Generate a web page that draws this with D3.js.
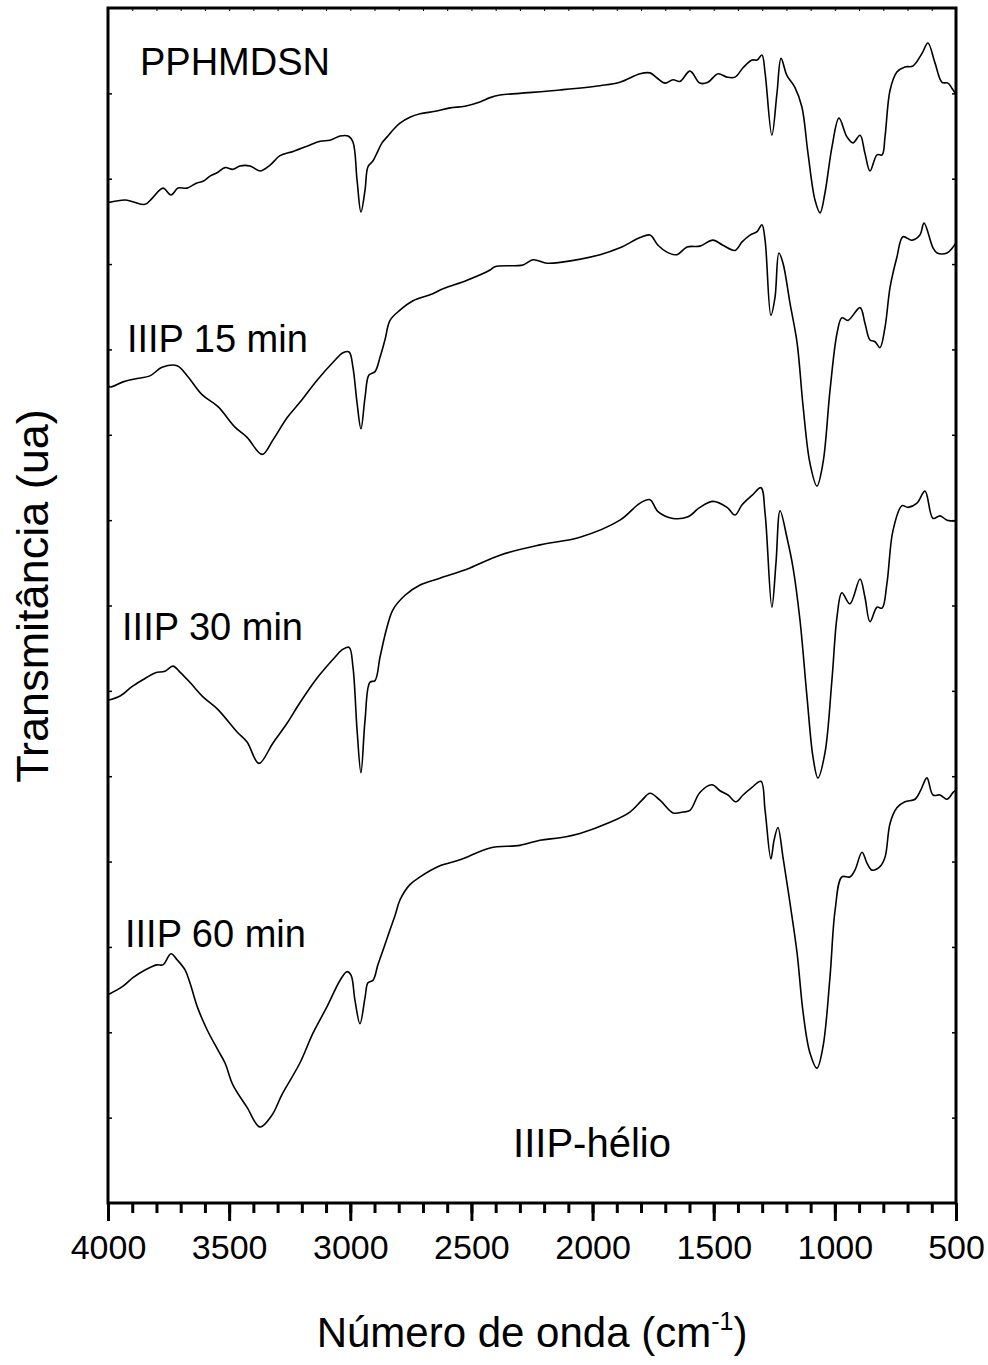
<!DOCTYPE html>
<html>
<head>
<meta charset="utf-8">
<script src="https://cdn.jsdelivr.net/npm/d3@7"></script>
<style>
  body { margin: 0; background: #fff; }
  text { font-family: Arial, "Liberation Sans", Helvetica, sans-serif; fill: #000; }
</style>
</head>
<body>
<div id="chart"></div>
<script>
// spectra: [wavenumber cm-1, transmittance (ua, stacked)]
const pphmdsn = [[4000,11.72],[3930,11.75],[3897,11.73],[3847,11.70],[3818,11.77],[3773,11.89],[3740,11.81],[3711,11.89],[3674,11.89],[3633,11.95],[3608,11.97],[3579,12.03],[3550,12.07],[3517,12.13],[3484,12.11],[3455,12.15],[3414,12.15],[3372,12.09],[3331,12.16],[3290,12.27],[3236,12.32],[3179,12.38],[3125,12.44],[3084,12.45],[3042,12.50],[3009,12.50],[2989,12.43],[2972,11.98],[2956,11.61],[2939,11.87],[2927,12.14],[2906,12.21],[2890,12.30],[2869,12.42],[2848,12.49],[2824,12.57],[2795,12.65],[2754,12.72],[2712,12.76],[2650,12.79],[2588,12.83],[2527,12.85],[2465,12.90],[2423,12.95],[2382,12.98],[2300,13.00],[2134,13.04],[1969,13.09],[1887,13.13],[1804,13.23],[1763,13.24],[1734,13.18],[1701,13.12],[1668,13.16],[1639,13.14],[1598,13.26],[1557,13.12],[1524,13.13],[1482,13.23],[1445,13.19],[1412,13.19],[1379,13.30],[1342,13.39],[1321,13.39],[1301,13.45],[1288,13.24],[1260,12.51],[1239,13.00],[1222,13.41],[1198,13.21],[1165,13.07],[1136,12.84],[1111,12.30],[1082,11.75],[1061,11.60],[1041,11.83],[1012,12.37],[983,12.71],[950,12.49],[925,12.42],[896,12.51],[876,12.30],[855,12.09],[826,12.28],[805,12.28],[793,12.49],[772,13.04],[744,13.25],[711,13.31],[678,13.32],[640,13.47],[616,13.59],[587,13.36],[558,13.13],[533,13.12],[517,13.06],[500,12.99]];

const iiip15 = [[4000,9.59],[3992,9.56],[3938,9.62],[3880,9.66],[3827,9.69],[3777,9.79],[3715,9.81],[3670,9.68],[3612,9.47],[3546,9.33],[3476,9.09],[3426,8.97],[3364,8.77],[3319,8.94],[3261,9.20],[3208,9.38],[3137,9.64],[3071,9.85],[3030,9.96],[3005,9.97],[2989,9.79],[2972,9.37],[2956,9.07],[2939,9.44],[2923,9.70],[2898,9.74],[2877,9.91],[2857,10.11],[2836,10.34],[2795,10.46],[2741,10.57],[2671,10.64],[2617,10.71],[2518,10.81],[2423,10.93],[2403,10.97],[2287,10.99],[2246,11.05],[2188,11.01],[2134,11.02],[1969,11.11],[1887,11.19],[1804,11.31],[1763,11.34],[1730,11.22],[1693,11.14],[1652,11.11],[1610,11.20],[1557,11.21],[1503,11.28],[1462,11.22],[1412,11.16],[1383,11.26],[1350,11.34],[1321,11.38],[1301,11.46],[1288,11.28],[1264,10.40],[1247,10.61],[1231,11.13],[1214,11.01],[1185,10.54],[1156,10.08],[1131,9.33],[1103,8.67],[1074,8.40],[1049,8.67],[1020,9.52],[991,10.19],[971,10.37],[946,10.34],[896,10.49],[876,10.31],[855,10.11],[834,10.09],[814,10.02],[793,10.26],[772,10.73],[744,11.08],[719,11.32],[682,11.28],[649,11.34],[632,11.48],[595,11.19],[578,11.13],[537,11.13],[512,11.20],[500,11.25]];

const iiip30 = [[4000,5.89],[3950,5.94],[3901,6.05],[3856,6.13],[3806,6.21],[3765,6.23],[3732,6.29],[3703,6.22],[3662,6.10],[3608,5.93],[3546,5.78],[3468,5.52],[3426,5.40],[3377,5.15],[3319,5.39],[3261,5.62],[3208,5.86],[3137,6.15],[3071,6.37],[3034,6.48],[3005,6.51],[2989,6.28],[2972,5.54],[2956,5.04],[2939,5.66],[2919,6.10],[2898,6.12],[2877,6.40],[2848,6.75],[2824,6.95],[2774,7.12],[2712,7.24],[2630,7.32],[2506,7.44],[2382,7.59],[2217,7.71],[2052,7.80],[1887,8.00],[1804,8.20],[1763,8.24],[1730,8.10],[1668,8.02],[1606,8.04],[1557,8.15],[1503,8.22],[1445,8.15],[1412,8.06],[1383,8.18],[1342,8.29],[1305,8.38],[1288,8.08],[1260,6.98],[1243,7.50],[1226,8.11],[1198,7.80],[1173,7.45],[1144,6.83],[1115,5.93],[1090,5.22],[1070,4.98],[1041,5.27],[1012,6.13],[991,6.87],[971,7.15],[938,7.02],[896,7.31],[876,7.10],[855,6.81],[826,6.98],[805,6.97],[785,7.26],[760,7.88],[723,8.17],[698,8.15],[661,8.20],[628,8.34],[595,8.02],[566,8.05],[537,8.00],[500,7.99]];

const iiip60 = [[4000,2.44],[3938,2.54],[3897,2.64],[3847,2.73],[3798,2.79],[3773,2.79],[3740,2.92],[3715,2.85],[3682,2.73],[3662,2.58],[3629,2.28],[3591,2.03],[3546,1.79],[3517,1.64],[3484,1.38],[3426,1.12],[3373,0.89],[3323,1.03],[3282,1.27],[3208,1.64],[3154,1.99],[3096,2.30],[3042,2.61],[3014,2.71],[2997,2.67],[2981,2.38],[2960,2.10],[2939,2.41],[2927,2.58],[2906,2.61],[2886,2.79],[2865,2.96],[2836,3.20],[2815,3.37],[2795,3.55],[2754,3.73],[2712,3.82],[2630,3.95],[2547,4.02],[2423,4.16],[2300,4.19],[2217,4.25],[2134,4.28],[2052,4.33],[1928,4.46],[1846,4.58],[1796,4.72],[1763,4.80],[1722,4.72],[1668,4.57],[1627,4.58],[1598,4.60],[1557,4.81],[1507,4.90],[1474,4.83],[1441,4.78],[1408,4.70],[1379,4.78],[1342,4.87],[1305,4.94],[1288,4.60],[1264,4.03],[1251,4.25],[1235,4.40],[1214,4.05],[1185,3.51],[1156,2.93],[1131,2.23],[1103,1.76],[1074,1.58],[1049,1.83],[1020,2.65],[999,3.43],[971,3.82],[938,3.82],[917,3.90],[888,4.11],[867,3.98],[847,3.90],[814,3.94],[793,4.05],[772,4.45],[744,4.63],[711,4.70],[669,4.73],[645,4.84],[620,4.98],[595,4.78],[566,4.78],[537,4.73],[512,4.81],[500,4.84]];

const seriesList = [pphmdsn, iiip15, iiip30, iiip60];
const seriesNames = ['PPHMDSN', 'IIIP 15 min', 'IIIP 30 min', 'IIIP 60 min'];

const xMajorTicks = [4000, 3500, 3000, 2500, 2000, 1500, 1000, 500];
const xMinorTicks = d3.range(500, 4001, 100);
const yTicks = d3.range(1, 14);

// label anchors in data units [wavenumber, transmittance]
const labelAt = [[3868, 13.21], [3922, 9.97], [3942, 6.60], [3930, 3.00]];
const noteText = 'IIIP-hélio';
const noteAt = [2328, 0.54];

const W = 988, H = 1365;
const m = { left: 108, right: 32, top: 8, bottom: 162 };
const iw = W - m.left - m.right;
const ih = H - m.top - m.bottom;

const svg = d3.select('#chart').append('svg')
    .attr('width', W)
    .attr('height', H);

const g = svg.append('g').attr('transform', `translate(${m.left},${m.top})`);

const x = d3.scaleLinear().domain([4000, 500]).range([0, iw]);
const y = d3.scaleLinear().domain([0, 14]).range([ih, 0]);

const line = d3.line()
    .x(d => x(d[0]))
    .y(d => y(d[1]))
    .curve(d3.curveCatmullRom.alpha(0.5));

g.selectAll('path.spec')
    .data(seriesList)
    .join('path')
    .attr('class', 'spec')
    .attr('d', line)
    .attr('fill', 'none')
    .attr('stroke', '#000')
    .attr('stroke-width', 1.6)
    .attr('stroke-linejoin', 'round');

// bottom axis: minor then major ticks
const xMinor = d3.axisBottom(x).tickValues(xMinorTicks).tickSize(10).tickFormat('');
const xMajor = d3.axisBottom(x).tickValues(xMajorTicks).tickSize(18).tickPadding(14)
    .tickFormat(d3.format('d'));

g.append('g').attr('transform', `translate(0,${ih})`).call(xMinor)
    .call(a => a.select('.domain').remove())
    .selectAll('line').attr('stroke-width', 3);

const xa = g.append('g').attr('transform', `translate(0,${ih})`).call(xMajor);
xa.select('.domain').remove();
xa.selectAll('line').attr('stroke-width', 3);
xa.selectAll('text').attr('font-size', 34).attr('fill', '#000');

// small inner ticks on the other sides
g.append('g').call(d3.axisLeft(y).tickValues(yTicks).tickSize(-4).tickFormat(''))
    .call(a => a.select('.domain').remove())
    .selectAll('line').attr('stroke-width', 1.5);
g.append('g').attr('transform', `translate(${iw},0)`)
    .call(d3.axisRight(y).tickValues(yTicks).tickSize(-4).tickFormat(''))
    .call(a => a.select('.domain').remove())
    .selectAll('line').attr('stroke-width', 1.5);
g.append('g').call(d3.axisTop(x).tickValues(xMinorTicks).tickSize(-3).tickFormat(''))
    .call(a => a.select('.domain').remove())
    .selectAll('line').attr('stroke-width', 1);

// frame
g.append('rect')
    .attr('width', iw)
    .attr('height', ih)
    .attr('fill', 'none')
    .attr('stroke', '#000')
    .attr('stroke-width', 3);

g.selectAll('text.lbl')
    .data(seriesNames)
    .join('text')
    .attr('class', 'lbl')
    .attr('x', (d, i) => x(labelAt[i][0]))
    .attr('y', (d, i) => y(labelAt[i][1]))
    .attr('font-size', 38)
    .text(d => d);

g.append('text')
    .attr('x', x(noteAt[0]))
    .attr('y', y(noteAt[1]))
    .attr('font-size', 40)
    .text(noteText);

// axis titles
const xt = svg.append('text')
    .attr('x', m.left + iw / 2)
    .attr('y', 1347)
    .attr('text-anchor', 'middle')
    .attr('font-size', 42);
xt.append('tspan').text('Número de onda (cm');
xt.append('tspan').attr('font-size', 25).attr('dy', -17).text('-1');
xt.append('tspan').attr('dy', 17).text(')');

svg.append('text')
    .attr('transform', 'translate(48,596) rotate(-90)')
    .attr('text-anchor', 'middle')
    .attr('font-size', 45)
    .text('Transmitância (ua)');
</script>
</body>
</html>
